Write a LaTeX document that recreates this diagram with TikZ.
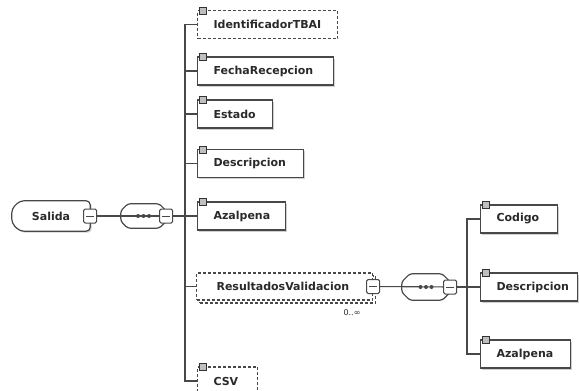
\documentclass[tikz,border=0pt]{standalone}
\usepackage{fontspec}
\setmainfont{DejaVu Sans}
\usetikzlibrary{backgrounds,shadows}
\pgfdeclarelayer{bgl}
\pgfdeclarelayer{conn}
\pgfdeclarelayer{shp}
\pgfsetlayers{bgl,conn,shp,main}
\definecolor{lc}{HTML}{484848}
\definecolor{tc}{HTML}{2A2A2A}
\newcommand{\eltext}[2]{\makebox[#1][l]{\hspace{16pt}#2}}
\begin{document}
\begin{tikzpicture}[x=1pt,y=-1pt,
  basebox/.style={draw=lc, line width=1.1pt, fill=white, minimum height=28pt,
    inner sep=0pt, anchor=west, font=\bfseries\fontsize{11}{13}\selectfont, text=tc},
  ebox/.style={basebox, drop shadow={shadow xshift=1.5pt, shadow yshift=-1.5pt, fill=black!30, opacity=0.6}},
  obox/.style={basebox, dash pattern=on 3pt off 2pt},
  mbox/.style={draw=lc, fill=white, line width=1pt, minimum width=13pt, minimum height=14pt,
    inner sep=0pt, rounded corners=1.5pt,
    path picture={\draw[lc, line width=0.9pt] ([xshift=2.5pt]path picture bounding box.west) -- ([xshift=-2.5pt]path picture bounding box.east);}},
  conn/.style={draw=lc, line width=1.1pt},
  outl/.style={draw=lc, line width=1.2pt, rounded corners=2.5pt},
  icon/.style={draw=gray!40!black, fill=gray!50, line width=0.5pt},
  area/.style={minimum width=#1, inner sep=0pt, font=\bfseries\fontsize{11}{13}\selectfont, text=tc}
]
\useasboundingbox (0,0) rectangle (579,391);
\begin{pgfonlayer}{bgl}
  \fill[white] (0,0) rectangle (579,391);
\end{pgfonlayer}

% root
\node[area=78pt, minimum height=30pt] (salida) at (51,216) {Salida};
\node[mbox] (m0) at (salida.east) {};
% sequence 1
\node[minimum width=45pt, minimum height=24pt, inner sep=0pt] (seq1) at (143.5,216) {};
\node[mbox] (m1) at (seq1.east) {};

% children level 1
\node[obox] (ident) at (197,24.5) {\eltext{140pt}{IdentificadorTBAI}};
\node[ebox] (fecha) at (197,71) {\eltext{136pt}{FechaRecepcion}};
\node[ebox] (estado) at (197,114) {\eltext{75pt}{Estado}};
\node[ebox] (desc) at (197,163.5) {\eltext{106pt}{Descripcion}};
\node[ebox] (azal) at (197,216) {\eltext{88pt}{Azalpena}};
\node[obox, minimum width=176pt, minimum height=27pt] (resback) at (199,289.5) {};
\node[obox, minimum width=176pt, minimum height=27pt] (res) at (196,286.5) {\makebox[176pt][l]{\hspace{20pt}ResultadosValidacion}};
\node[mbox] (mres) at (res.east) {};
\node[font=\fontsize{8}{9}\selectfont, text=tc] (occ) at (352,313) {0..∞};
\node[obox] (csv) at (197,381) {\eltext{60pt}{CSV}};

% sequence 2
\node[minimum width=48pt, minimum height=26pt, inner sep=0pt] (seq2) at (426,287) {};
\node[mbox] (m2) at (seq2.east) {};

% children level 2
\node[ebox] (codigo) at (480,219) {\eltext{77pt}{Codigo}};
\node[ebox] (desc2) at (480,287) {\eltext{97pt}{Descripcion}};
\node[ebox] (azal2) at (480,354) {\eltext{90pt}{Azalpena}};

\coordinate (bar1) at (185,216);
\coordinate (bar2) at (467,287);

\begin{pgfonlayer}{conn}
  \draw[conn] (m0) -- (m1);
  \draw[conn] (m1.east) -- (bar1);
  \draw[conn, line width=1.3pt] (ident.west) -| (bar1) |- (csv.west);
  \foreach \n in {fecha,estado,desc,azal,res}
    \draw[conn] (\n.west) -- (\n.west -| bar1);
  \draw[conn] (mres) -- (m2);
  \draw[conn] (m2.east) -- (bar2);
  \draw[conn, line width=1.3pt] (codigo.west) -| (bar2) |- (azal2.west);
  \draw[conn] (desc2.west) -- (desc2.west -| bar2);
\end{pgfonlayer}

\begin{pgfonlayer}{shp}
  \path[outl, rounded corners=4pt, fill=white, drop shadow={shadow xshift=1.5pt, shadow yshift=-1.5pt, fill=black!30, opacity=0.6}]
    ([xshift=8pt]salida.north west) -- (salida.north east) -- (salida.south east)
    -- ([xshift=8pt]salida.south west) -- ([yshift=8pt]salida.south west)
    -- ([yshift=-8pt]salida.north west) -- cycle;
  \draw[outl]
    ([xshift=7pt]seq1.north west) -- ([xshift=-7pt]seq1.north east) -- ([yshift=-7pt]seq1.north east)
    -- ([yshift=7pt]seq1.south east) -- ([xshift=-7pt]seq1.south east) -- ([xshift=7pt]seq1.south west)
    -- ([yshift=7pt]seq1.south west) -- ([yshift=-7pt]seq1.north west) -- cycle;
  \draw[outl]
    ([xshift=8pt]seq2.north west) -- ([xshift=-8pt]seq2.north east) -- ([yshift=-8pt]seq2.north east)
    -- ([yshift=8pt]seq2.south east) -- ([xshift=-8pt]seq2.south east) -- ([xshift=8pt]seq2.south west)
    -- ([yshift=8pt]seq2.south west) -- ([yshift=-8pt]seq2.north west) -- cycle;
\end{pgfonlayer}

\foreach \dx in {-5.5,0,5.5} {
  \fill[lc] ([xshift=\dx pt]seq1.center) circle (2pt);
  \fill[lc] ([xshift=\dx pt]seq2.center) circle (2pt);
}
\foreach \n in {ident,fecha,estado,desc,azal,csv,codigo,desc2,azal2}
  \draw[icon] ([xshift=2pt,yshift=3pt]\n.north west) rectangle ++(7pt,-7pt);
\end{tikzpicture}
\end{document}
